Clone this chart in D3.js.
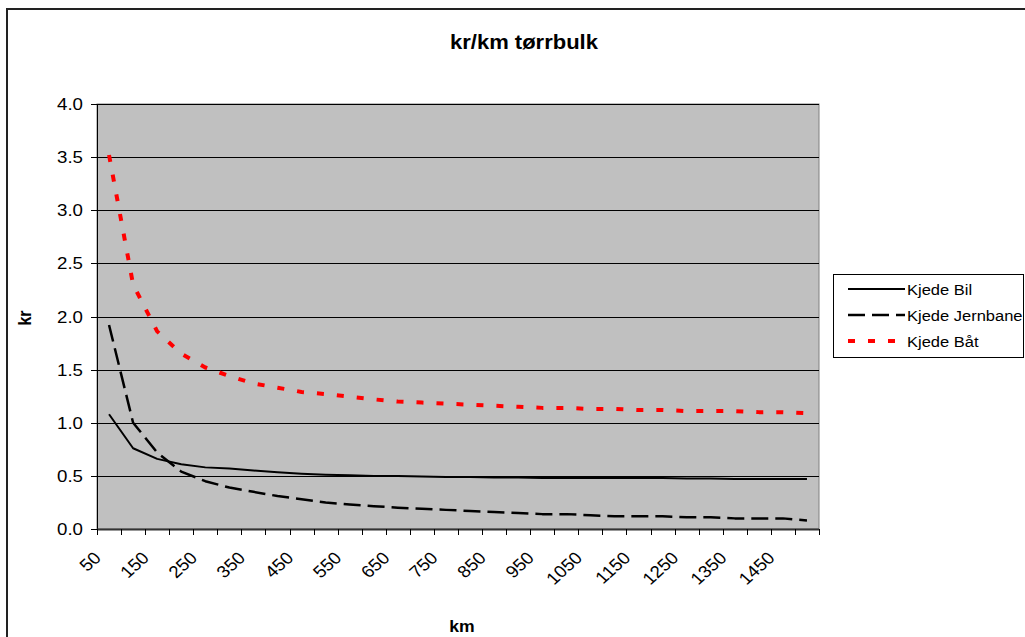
<!DOCTYPE html>
<html>
<head>
<meta charset="utf-8">
<script src="https://cdn.jsdelivr.net/npm/d3@7/dist/d3.min.js"></script>
<style>
  body { margin: 0; background: #fff; }
  text { font-family: "Liberation Sans", Arial, sans-serif; fill: #000; }
</style>
</head>
<body>
<div id="chart"></div>
<script>
const categories = [50, 100, 150, 200, 250, 300, 350, 400, 450, 500, 550, 600, 650, 700, 750,
  800, 850, 900, 950, 1000, 1050, 1100, 1150, 1200, 1250, 1300, 1350, 1400, 1450, 1500];
const bil = [1.08, 0.76, 0.66, 0.61, 0.58, 0.57, 0.55, 0.535, 0.52, 0.51, 0.505, 0.5, 0.5, 0.495, 0.49,
  0.49, 0.485, 0.485, 0.48, 0.48, 0.48, 0.48, 0.48, 0.48, 0.475, 0.475, 0.47, 0.47, 0.47, 0.47];
const jernbane = [1.92, 1.0, 0.72, 0.54, 0.45, 0.39, 0.35, 0.31, 0.28, 0.25, 0.23, 0.215, 0.2, 0.19, 0.18,
  0.17, 0.16, 0.15, 0.14, 0.14, 0.13, 0.12, 0.12, 0.12, 0.11, 0.11, 0.1, 0.1, 0.1, 0.08];
const baat = [3.52, 2.3, 1.86, 1.65, 1.52, 1.44, 1.37, 1.33, 1.29, 1.27, 1.245, 1.22, 1.2, 1.19, 1.18,
  1.17, 1.16, 1.15, 1.14, 1.14, 1.13, 1.13, 1.12, 1.12, 1.11, 1.11, 1.11, 1.1, 1.1, 1.09];
const seriesNames = ["Kjede Bil", "Kjede Jernbane", "Kjede Båt"];
const yTicks = [0, 0.5, 1, 1.5, 2, 2.5, 3, 3.5, 4];
const xLabels = [50, 150, 250, 350, 450, 550, 650, 750, 850, 950, 1050, 1150, 1250, 1350, 1450];

let w = 1025;
let h = 637;
let plot = { left: 97, right: 819, top: 104, bottom: 529 };
let sx = 1.1; // text in the picture is a bit wider than plain Arial

let series = [
  { name: seriesNames[0], values: bil, stroke: "#000", width: 2, dash: null },
  { name: seriesNames[1], values: jernbane, stroke: "#000", width: 2.5, dash: "17,7" },
  { name: seriesNames[2], values: baat, stroke: "#ff0000", width: 4, dash: "7,13" }
];

let x = d3.scaleBand().domain(categories).range([plot.left, plot.right]).padding(0);
let y = d3.scaleLinear().domain([0, 4]).range([plot.bottom, plot.top]);
let cx = function (c) { return x(c) + x.bandwidth() / 2; };

let svg = d3.select("#chart").append("svg").attr("width", w).attr("height", h);

// outer chart frame
svg.append("rect")
  .attr("x", 7).attr("y", 9)
  .attr("width", w + 20).attr("height", h + 20)
  .attr("fill", "#fff").attr("stroke", "#222").attr("stroke-width", 2);

svg.append("rect")
  .attr("x", plot.left).attr("y", plot.top)
  .attr("width", plot.right - plot.left).attr("height", plot.bottom - plot.top)
  .attr("fill", "#c0c0c0").attr("stroke", "#808080").attr("stroke-width", 1);

// gridlines
svg.selectAll("line.grid")
  .data(yTicks.filter(function (d) { return d > 0; }))
  .enter().append("line")
  .attr("class", "grid")
  .attr("x1", plot.left).attr("x2", plot.right)
  .attr("y1", function (d) { return Math.round(y(d)) + 0.5; })
  .attr("y2", function (d) { return Math.round(y(d)) + 0.5; })
  .attr("stroke", "#000").attr("stroke-width", 1);

// y axis
svg.append("line")
  .attr("x1", plot.left + 0.5).attr("x2", plot.left + 0.5)
  .attr("y1", plot.top).attr("y2", plot.bottom)
  .attr("stroke", "#000");
svg.selectAll("line.ytick")
  .data(yTicks).enter().append("line")
  .attr("class", "ytick")
  .attr("x1", plot.left - 6).attr("x2", plot.left)
  .attr("y1", function (d) { return Math.round(y(d)) + 0.5; })
  .attr("y2", function (d) { return Math.round(y(d)) + 0.5; })
  .attr("stroke", "#000");
svg.selectAll("text.ylab")
  .data(yTicks).enter().append("text")
  .attr("class", "ylab")
  .attr("transform", function (d) { return `translate(83,${y(d) + 6}) scale(${sx},1)`; })
  .attr("text-anchor", "end")
  .attr("font-size", 17)
  .text(d3.format(".1f"));

// x axis
svg.append("line")
  .attr("x1", plot.left).attr("x2", plot.right)
  .attr("y1", plot.bottom + 0.5).attr("y2", plot.bottom + 0.5)
  .attr("stroke", "#333").attr("stroke-width", 2);
let boundaries = categories.map(function (c) { return x(c); }).concat([plot.right]);
svg.selectAll("line.xtick")
  .data(boundaries).enter().append("line")
  .attr("class", "xtick")
  .attr("x1", function (d) { return Math.round(d) + 0.5; })
  .attr("x2", function (d) { return Math.round(d) + 0.5; })
  .attr("y1", plot.bottom).attr("y2", plot.bottom + 6)
  .attr("stroke", "#000");
svg.selectAll("text.xlab")
  .data(xLabels).enter().append("text")
  .attr("class", "xlab")
  .attr("transform", function (d) { return `translate(${cx(d) - 7},559) scale(${sx},1) rotate(-45)`; })
  .attr("text-anchor", "end")
  .attr("font-size", 17)
  .text(function (d) { return d; });

// lines
let line = d3.line()
  .x(function (d, i) { return cx(categories[i]); })
  .y(function (d) { return y(d); });

svg.selectAll("path.series")
  .data(series).enter().append("path")
  .attr("class", "series")
  .attr("d", function (d) { return line(d.values); })
  .attr("fill", "none")
  .attr("stroke", function (d) { return d.stroke; })
  .attr("stroke-width", function (d) { return d.width; })
  .attr("stroke-dasharray", function (d) { return d.dash; })
  .attr("stroke-linejoin", "round");

// titles
svg.append("text")
  .attr("transform", `translate(524,49) scale(${sx},1)`)
  .attr("text-anchor", "middle")
  .attr("font-size", 20)
  .attr("font-weight", "bold")
  .text("kr/km tørrbulk");
svg.append("text")
  .attr("transform", `translate(462,632) scale(${sx},1)`)
  .attr("text-anchor", "middle")
  .attr("font-size", 16)
  .attr("font-weight", "bold")
  .text("km");
svg.append("text")
  .attr("transform", `translate(31,318) scale(${sx},1) rotate(-90)`)
  .attr("text-anchor", "middle")
  .attr("font-size", 16)
  .attr("font-weight", "bold")
  .text("kr");

// legend
let legend = svg.append("g");
legend.append("rect")
  .attr("x", 833.5).attr("y", 274.5)
  .attr("width", 190).attr("height", 83)
  .attr("fill", "#fff").attr("stroke", "#000");
let row = legend.selectAll("g.row")
  .data(series).enter().append("g")
  .attr("class", "row")
  .attr("transform", function (d, i) { return `translate(0,${289 + i * 26})`; });
row.append("line")
  .attr("x1", 848).attr("x2", 905)
  .attr("stroke", function (d) { return d.stroke; })
  .attr("stroke-width", function (d) { return d.width; })
  .attr("stroke-dasharray", function (d) { return d.dash; });
row.append("text")
  .attr("transform", `translate(907,5.5) scale(${sx},1)`)
  .attr("font-size", 15)
  .text(function (d) { return d.name; });
</script>
</body>
</html>
